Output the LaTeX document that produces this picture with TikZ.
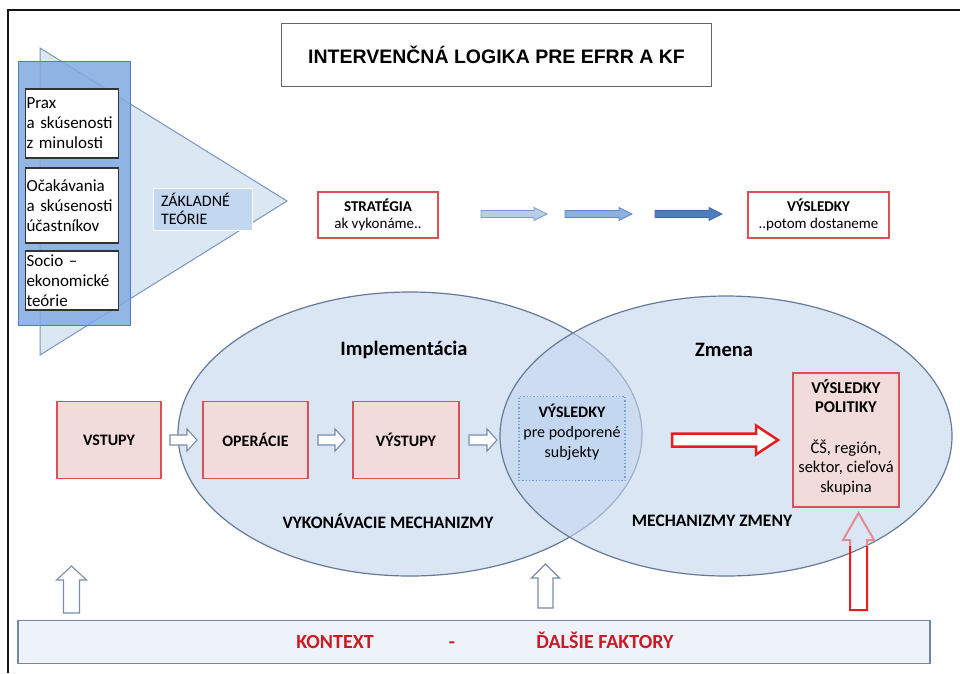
\documentclass[tikz,border=0pt]{standalone}
\usepackage{fontspec}
\setmainfont{Carlito}
\newfontfamily\titlefont{Liberation Sans}
\usetikzlibrary{shapes.geometric}
\definecolor{frameblk}{RGB}{20,20,20}
\definecolor{trifill}{RGB}{220,231,244}
\definecolor{tridraw}{RGB}{120,150,190}
\definecolor{colfill}{RGB}{130,170,224}
\definecolor{coldraw}{RGB}{80,125,190}
\definecolor{zakfill}{RGB}{196,215,240}
\definecolor{redline}{RGB}{218,80,85}
\definecolor{pinkfill}{RGB}{242,220,219}
\definecolor{ellfill}{RGB}{196,214,238}
\definecolor{elldraw}{RGB}{100,122,150}
\definecolor{dotfill}{RGB}{196,215,240}
\definecolor{dotdraw}{RGB}{120,160,215}
\definecolor{hollowdraw}{RGB}{120,140,170}
\definecolor{ctxfill}{RGB}{238,243,250}
\definecolor{ctxdraw}{RGB}{115,135,165}
\definecolor{ctxred}{RGB}{200,28,36}
\definecolor{bigred}{RGB}{230,30,30}
\definecolor{headpink}{RGB}{228,140,145}
\definecolor{arone}{RGB}{185,205,232}
\definecolor{aronedraw}{RGB}{120,155,205}
\definecolor{artwo}{RGB}{140,175,222}
\definecolor{artwodraw}{RGB}{95,135,195}
\definecolor{arthree}{RGB}{80,125,190}
\definecolor{arthreedraw}{RGB}{65,105,170}
% block arrow pointing right: style, x tail, x tip, y, shaft half, head half, head length
\newcommand\rightblock[7]{\draw[#1] (#2,#4-#5) -- (#3-#7,#4-#5) -- (#3-#7,#4-#6) -- (#3,#4)
  -- (#3-#7,#4+#6) -- (#3-#7,#4+#5) -- (#2,#4+#5) -- cycle;}
% block arrow pointing up: style, x, y tail, y tip, shaft half, head half, head length
\newcommand\upblock[7]{\draw[#1] (#2-#5,#3) -- (#2-#5,#4+#7) -- (#2-#6,#4+#7) -- (#2,#4)
  -- (#2+#6,#4+#7) -- (#2+#5,#4+#7) -- (#2+#5,#3) -- cycle;}
\tikzset{
  whitebox/.style={draw=black!80, line width=1.3pt, fill=white, text width=91pt,
    inner xsep=1pt, inner ysep=0pt, align=left, font=\fontsize{17}{20}\selectfont},
  redbox/.style={draw=redline, line width=1.5pt, fill=white, align=center,
    font=\fontsize{15}{17}\selectfont},
  pinkbox/.style={draw=redline, line width=1.5pt, fill=pinkfill, align=center,
    font=\bfseries\fontsize{16}{18}\selectfont},
  hollowline/.style={draw=hollowdraw, fill=white, line width=1.1pt},
  elllabel/.style={font=\bfseries\fontsize{20.5}{22}\selectfont},
  mechlabel/.style={font=\bfseries\fontsize{17.5}{19}\selectfont},
  ctxtext/.style={text=ctxred, anchor=base, font=\bfseries\fontsize{20}{22}\selectfont},
  ellset/.style={ellipse, draw=elldraw, line width=1.2pt, fill=ellfill, fill opacity=0.6,
    inner sep=0pt}
}
\begin{document}
\begin{tikzpicture}[x=1pt,y=-1pt, every node/.style={inner sep=0pt, outer sep=0pt}]
\useasboundingbox (0,0) rectangle (960,673);
\fill[white] (0,0) rectangle (960,673);
% frame
\draw[frameblk, line width=2pt] (8,673) -- (8,10) -- (960,10);
% triangle of theories
\draw[tridraw, fill=trifill, line width=1pt] (40,48) -- (287,201) -- (40,355) -- cycle;
% blue column
\node[draw=coldraw, fill=colfill, fill opacity=0.85, line width=1pt,
  minimum width=112pt, minimum height=264pt] (column) at (74,193) {};
\node[whitebox, minimum height=69pt] (prax) at (72,123.5) {Prax\\a~skúsenosti\\z~minulosti};
\node[whitebox, minimum height=75pt] (ocak) at (72,205.5) {Očakávania\\a~skúsenosti\\účastníkov};
\node[whitebox, minimum height=59pt] (socio) at (72,280.5) {Socio –\\ekonomické\\teórie};
\node[draw=white, line width=1pt, fill=zakfill, minimum height=42pt, text width=83pt,
  inner xsep=8pt, align=left, font=\fontsize{16}{18}\selectfont] (zakl) at (202.5,209) {ZÁKLADNÉ\\TEÓRIE};
% title
\node[draw=gray!80!black, line width=1pt, fill=white, minimum width=430pt, minimum height=63pt,
  font=\titlefont\bfseries\fontsize{19.5}{22}\selectfont] (title) at (496.5,54.5) {INTERVENČNÁ LOGIKA PRE EFRR A KF};
% top row
\node[redbox, minimum width=120pt, minimum height=46pt] (strat) at (378,215) {\textbf{STRATÉGIA}\\ak vykonáme..};
\node[redbox, minimum width=141pt, minimum height=46pt] (vyslt) at (818.5,215) {\textbf{VÝSLEDKY}\\..potom dostaneme};
\rightblock{fill=arone, draw=aronedraw, line width=0.8pt}{481}{547}{214}{3.5}{6.5}{13}
\rightblock{fill=artwo, draw=artwodraw, line width=0.8pt}{565}{632}{214}{3.5}{6.5}{13}
\rightblock{fill=arthree, draw=arthreedraw, line width=0.8pt}{655}{722}{214}{3.5}{6.5}{13}
% ellipses
\node[ellset, minimum width=464pt, minimum height=284pt] (impl) at (410,434) {};
\node[ellset, minimum width=452pt, minimum height=280pt] (zmena) at (726,436) {};
\node[elllabel] (impllab) at (404,350) {Implementácia};
\node[elllabel] (zmenalab) at (724,350) {Zmena};
\node[mechlabel] (vyklab) at (388,521) {VYKONÁVACIE MECHANIZMY};
\node[mechlabel] (mechlab) at (712,521) {MECHANIZMY ZMENY};
% lower boxes
\node[pinkbox, minimum width=104pt, minimum height=77pt] (vstupy) at (109,440) {VSTUPY};
\node[pinkbox, minimum width=105pt, minimum height=77pt] (oper) at (255.5,440) {OPERÁCIE};
\node[pinkbox, minimum width=106pt, minimum height=77pt] (vystupy) at (406,440) {VÝSTUPY};
\rightblock{hollowline}{170}{197}{440}{5}{11}{10}
\rightblock{hollowline}{318}{345}{440}{5}{11}{10}
\rightblock{hollowline}{469}{497}{440}{5}{11}{10}
% results for supported subjects
\node[draw=dotdraw, dotted, line width=1.3pt, fill=dotfill, minimum width=106pt, minimum height=84pt] (vyslsub) at (572,438.5) {};
\node[align=center, font=\fontsize{16}{20}\selectfont] (vyslsubtext) at (572,432) {\textbf{VÝSLEDKY}\\pre podporené\\subjekty};
% big red arrow
\rightblock{draw=bigred, fill=white, line width=2.5pt}{672}{778}{440}{6.5}{14.5}{22}
% policy results
\node[pinkbox, minimum width=106pt, minimum height=134pt] (politiky) at (846,440) {};
\node[align=center, font=\fontsize{16.5}{19.5}\selectfont] (politikytext) at (846,437)
  {\textbf{VÝSLEDKY}\\\textbf{POLITIKY}\\[21pt]ČŠ, región,\\sektor, cieľová\\skupina};
% context bar
\node[draw=ctxdraw, line width=1.3pt, fill=ctxfill, minimum width=912pt, minimum height=43pt] (ctx) at (474,642) {};
\node[ctxtext] (kontext) at (335,648) {KONTEXT};
\node[ctxtext] (dash) at (452,648) {-};
\node[ctxtext] (dalsie) at (605,648) {ĎALŠIE FAKTORY};
% upward arrows
\upblock{hollowline}{71.5}{613}{566}{8}{15}{14}
\upblock{hollowline}{545.5}{608}{564}{7.5}{14}{14}
\begin{scope}
  \clip (800,500) rectangle (920,546);
  \upblock{draw=headpink, line width=2pt}{858.5}{610}{513}{8.5}{15.5}{27}
\end{scope}
\begin{scope}
  \clip (800,546) rectangle (920,620);
  \upblock{draw=bigred, line width=2pt}{858.5}{610}{513}{8.5}{15.5}{27}
\end{scope}
\end{tikzpicture}
\end{document}
